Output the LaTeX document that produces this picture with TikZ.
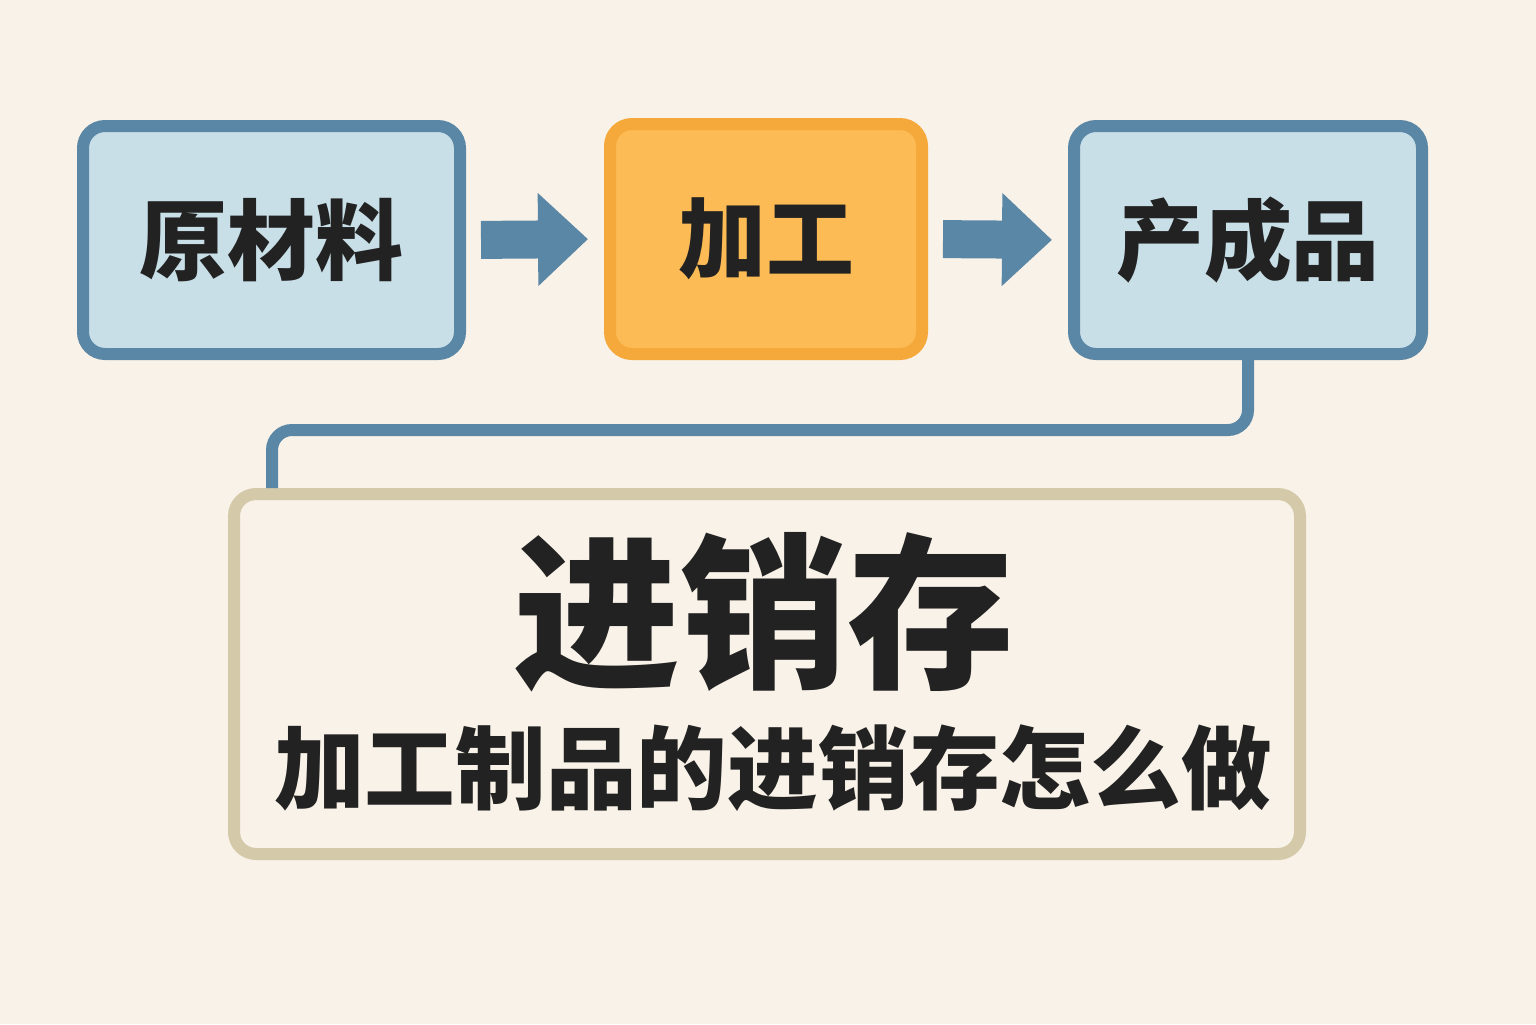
\documentclass[tikz,border=0pt]{standalone}
\usepackage{fontspec}
\newfontfamily\cjk{Noto Sans CJK SC}
\usetikzlibrary{arrows.meta,positioning,calc}
\definecolor{bg}{HTML}{F9F2E8}
\definecolor{steel}{HTML}{5B87A7}
\definecolor{ice}{HTML}{C8DFE8}
\definecolor{amber}{HTML}{F5A93A}
\definecolor{honey}{HTML}{FDBB55}
\definecolor{sand}{HTML}{D4C9A8}
\definecolor{ink}{HTML}{222222}

\begin{document}
\begin{tikzpicture}[>=Stealth,font=\cjk\bfseries,text=ink]
\tikzstyle{box}=[draw=steel,fill=ice,line width=0.12cm,rounded corners=0.22cm,minimum height=2.28cm,font=\cjk\bfseries\fontsize{25}{30}\selectfont]
\tikzstyle{blk}=[steel,line width=0.38cm,-{Triangle[length=0.5cm,width=0.9cm]},shorten <=0.15cm,shorten >=0.16cm]
\tikzstyle{link}=[steel,line width=0.12cm,rounded corners=0.2cm]
\fill[bg] (0,0) rectangle (15.36,-10.24);
\node[box,minimum width=3.77cm] (raw) at (2.715,-2.40) {原材料};
\node[box,draw=amber,fill=honey,minimum width=3.12cm,minimum height=2.30cm] (proc) at (7.66,-2.39) {加工};
\node[box,minimum width=3.48cm] (prod) at (12.48,-2.40) {产成品};
\node[box,draw=sand,fill=bg,minimum width=10.66cm,minimum height=3.60cm] (inv) at (7.67,-6.74) {};
\node[font=\cjk\bfseries\fontsize{47.5}{52}\selectfont] (title) at (7.64,-6.12) {进销存};
\node[font=\cjk\bfseries\fontsize{25.8}{30}\selectfont] (sub) at (7.73,-7.68) {加工制品的进销存怎么做};
\draw[blk] (raw.east) -- (proc.west);
\draw[blk] (proc.east) -- (prod.west);
\coordinate (bend) at (2.72,-4.30);
\draw[link] (prod.south) |- (bend) -- (bend |- inv.north);
\end{tikzpicture}
\end{document}
